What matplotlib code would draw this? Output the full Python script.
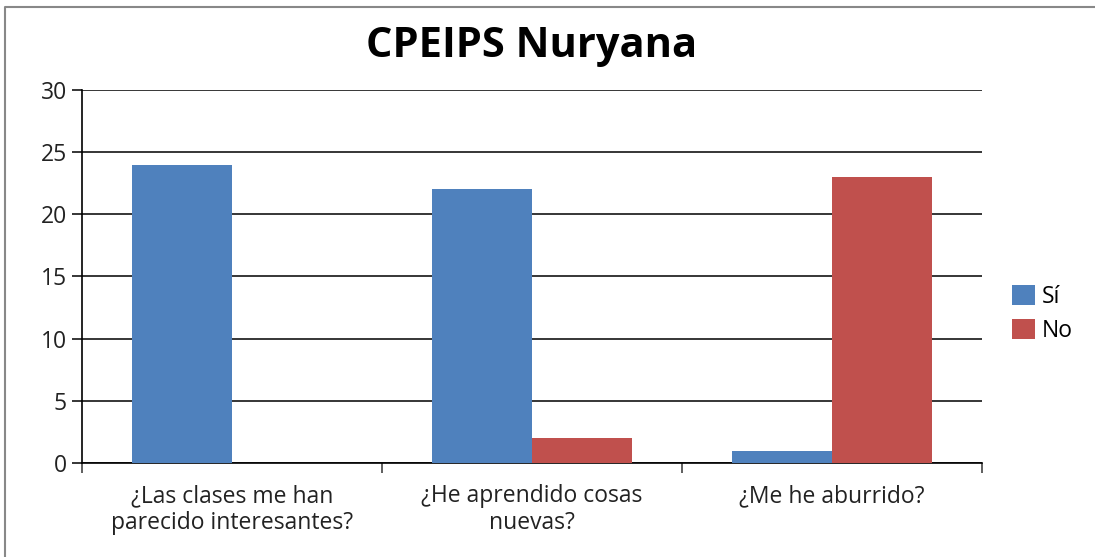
import matplotlib.pyplot as plt
import numpy as np
from matplotlib.lines import Line2D

categories = ["¿Las clases me han\nparecido interesantes?", "¿He aprendido cosas\nnuevas?", "¿Me he aburrido?"]
si_values = [24, 22, 1]
no_values = [0, 2, 23]
series_names = ["Sí", "No"]
y_ticks = [0, 5, 10, 15, 20, 25, 30]

plt.rcParams["font.family"] = ["Open Sans", "DejaVu Sans"]

fig = plt.figure(figsize=(10.95, 5.57), dpi=100)
ax = fig.add_axes([0.0749, 0.1688, 0.8219, 0.6696])

# outer chart frame (only top and left edges are visible in the crop)
fig.add_artist(Line2D([0.005, 0.005, 1.0], [0.0, 0.987, 0.987], transform=fig.transFigure,
                      color="#888888", linewidth=1.5))

x = np.arange(len(categories))
w = 1 / 3
ax.bar(x - w / 2, si_values, w, color="#4F81BD", label=series_names[0], zorder=3)
ax.bar(x + w / 2, no_values, w, color="#C0504D", label=series_names[1], zorder=3)

ax.set_xlim(-0.5, len(categories) - 0.5)
ax.set_ylim(0, 30)
ax.set_yticks(y_ticks)
ax.yaxis.grid(True, color="black", linewidth=1.1, zorder=0)
ax.set_axisbelow(True)

ax.set_xticks(x)
ax.set_xticklabels(categories, fontsize=16.5, color="#222222", linespacing=1.15)
ax.tick_params(axis="x", length=0, pad=15)
ax.set_xticks(np.arange(-0.5, len(categories)), minor=True)
ax.tick_params(axis="x", which="minor", length=7, width=1.2, color="#444444", direction="out")
ax.tick_params(axis="y", length=7, width=1.1, labelsize=16.5, labelcolor="#222222", pad=4)

for side in ("top", "right"):
    ax.spines[side].set_visible(False)
ax.spines["left"].set_linewidth(1.2)
ax.spines["bottom"].set_linewidth(1.2)

ax.set_title("CPEIPS Nuryana", fontsize=30, fontweight="bold", pad=24)

ax.legend(loc="center left", bbox_to_anchor=(1.01, 0.40), frameon=False, fontsize=16.5,
          handlelength=1.0, handleheight=1.0, handletextpad=0.3, labelspacing=0.45)

fig.savefig("out.png", dpi=100)
